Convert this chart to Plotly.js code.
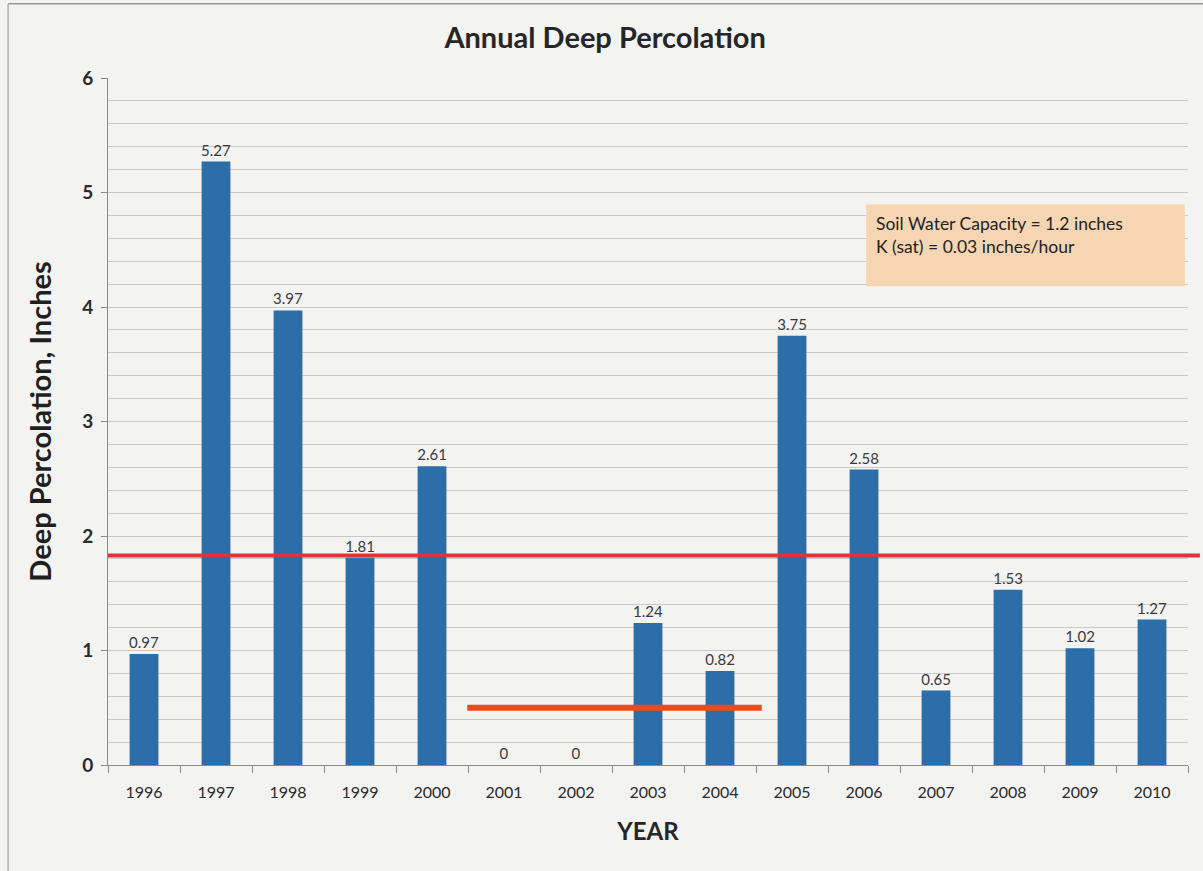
<!DOCTYPE html>
<html>
<head>
<meta charset="utf-8">
<script src="https://cdn.plot.ly/plotly-3.0.1.min.js"></script>
<style>
  html, body { margin: 0; padding: 0; background: #f3f3f2; }
  #chart { width: 1203px; height: 871px; }
</style>
</head>
<body>
<div id="chart"></div>
<script>
// Annual deep percolation by year (inches)
const years = ['1996','1997','1998','1999','2000','2001','2002','2003','2004','2005','2006','2007','2008','2009','2010'];
const percolation = [0.97, 5.27, 3.97, 1.81, 2.61, 0, 0, 1.24, 0.82, 3.75, 2.58, 0.65, 1.53, 1.02, 1.27];
const percolationLabels = ['0.97','5.27','3.97','1.81','2.61','0','0','1.24','0.82','3.75','2.58','0.65','1.53','1.02','1.27'];

// Reference levels
const averageLevel = 1.83;
const droughtLevel = 0.5;
const droughtSpan = [4.49, 8.58];   // category-index span of the low-flow marker

const noteLines = ['Soil Water Capacity = 1.2 inches', 'K (sat) = 0.03 inches/hour'];

const font = 'Lato, "Open Sans", "Liberation Sans", sans-serif';

const bars = {
  type: 'bar',
  x: years,
  y: percolation,
  text: percolationLabels,
  textposition: 'outside',
  constraintext: 'none',
  cliponaxis: false,
  textfont: { family: font, size: 15, color: '#3a3a3a' },
  marker: { color: '#2c6ea8', line: { width: 0 } },
  hoverinfo: 'x+y'
};

const layout = {
  width: 1203,
  height: 871,
  margin: { l: 108, r: 15, t: 78, b: 106 },
  paper_bgcolor: '#f3f3f2',
  plot_bgcolor: '#f3f3f2',
  bargap: 0.6,
  showlegend: false,
  title: {
    text: '<b>Annual Deep Percolation</b>',
    font: { family: font, size: 29, color: '#262626' },
    x: 0.503, xanchor: 'center',
    y: 0.956, yanchor: 'middle'
  },
  xaxis: {
    type: 'category',
    tickson: 'boundaries',
    ticks: 'outside',
    ticklen: 7,
    tickcolor: '#8a8a8a',
    ticklabelstandoff: 13,
    showline: true,
    linecolor: '#8a8a8a',
    linewidth: 1,
    showgrid: false,
    tickfont: { family: font, size: 16, color: '#2a2a2a' },
    title: {
      text: '<b>YEAR</b>',
      font: { family: font, size: 24, color: '#262626' },
      standoff: 22
    }
  },
  yaxis: {
    range: [0, 6],
    dtick: 1,
    ticks: 'outside',
    ticklen: 6,
    tickcolor: '#8a8a8a',
    ticklabelstandoff: 4,
    showline: true,
    linecolor: '#8a8a8a',
    linewidth: 1,
    gridcolor: '#c9c9c9',
    gridwidth: 1,
    zeroline: false,
    minor: { dtick: 0.2, showgrid: true, gridcolor: '#c9c9c9', gridwidth: 1 },
    tickfont: { family: font, size: 19, color: '#2a2a2a', weight: 'bold' },
    title: {
      text: '<b>Deep Percolation, Inches</b>',
      font: { family: font, size: 29, color: '#1f1f1f' },
      standoff: 22
    }
  },
  shapes: [
    // average level line across the whole plot
    {
      type: 'line', xref: 'paper', yref: 'y',
      x0: 0, x1: 1.011, y0: averageLevel, y1: averageLevel,
      line: { color: '#e0323a', width: 4 }
    },
    // low-flow marker over the dry years
    {
      type: 'line', xref: 'x', yref: 'y',
      x0: droughtSpan[0], x1: droughtSpan[1], y0: droughtLevel, y1: droughtLevel,
      line: { color: '#e84c1e', width: 6 }
    },
    // note box
    {
      type: 'rect', xref: 'paper', yref: 'paper',
      x0: 0.702, x1: 0.997, y0: 0.697, y1: 0.816,
      fillcolor: '#f6d6b2', line: { width: 0 }, layer: 'above'
    },
    // chart frame: top and left edges
    {
      type: 'line', xref: 'paper', yref: 'paper',
      x0: -0.0925, x1: 1.02, y0: 1.108, y1: 1.108,
      line: { color: '#9a9a9a', width: 1.5 }
    },
    {
      type: 'line', xref: 'paper', yref: 'paper',
      x0: -0.0925, x1: -0.0925, y0: -0.16, y1: 1.108,
      line: { color: '#b0b0b0', width: 1.5 }
    }
  ],
  annotations: [
    {
      xref: 'paper', yref: 'paper',
      x: 0.709, y: 0.806, xanchor: 'left', yanchor: 'top',
      align: 'left',
      text: noteLines.join('<br>'),
      showarrow: false,
      font: { family: font, size: 17.5, color: '#222222' }
    }
  ]
};

Plotly.newPlot('chart', [bars], layout, { displayModeBar: false, staticPlot: true });
</script>
</body>
</html>
